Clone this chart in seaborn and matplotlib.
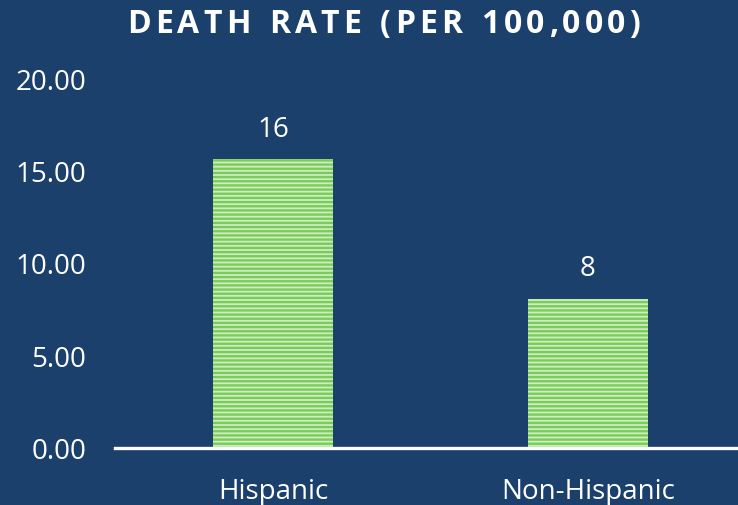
import matplotlib
matplotlib.use("Agg")
import matplotlib.pyplot as plt
import seaborn as sns
import pandas as pd

groups = ["Hispanic", "Non-Hispanic"]
death_rate = [15.6, 8.05]
bar_labels = ["16", "8"]
y_ticks = [0, 5, 10, 15, 20]
title = "DEATH RATE (PER 100,000)"

BG = "#1a406b"
LIGHT = "#cdefbd"
DARK = "#7acb5c"

sns.set_theme(style="white")
plt.rcParams["font.family"] = ["Open Sans", "DejaVu Sans"]
plt.rcParams["hatch.linewidth"] = 1.7
plt.rcParams["hatch.color"] = DARK

df = pd.DataFrame({"group": groups, "rate": death_rate})

fig = plt.figure(figsize=(7.38, 5.06), dpi=100, facecolor=BG)
ax = fig.add_axes([115.5 / 738, 57 / 506, 630 / 738, 370 / 506])
ax.set_facecolor(BG)

sns.barplot(data=df, x="group", y="rate", ax=ax, width=0.38,
            color=LIGHT, saturation=1, edgecolor="none")
for p in ax.patches:
    p.set_hatch("----")
    p.set_edgecolor(DARK)
    p.set_linewidth(0)

ax.bar_label(ax.containers[0], labels=bar_labels, padding=12,
             color="white", fontsize=20)

ax.set_xlim(-0.5, 1.5)
ax.set_ylim(0, 20)
ax.set_yticks(y_ticks)
ax.set_yticklabels([f"{v:.2f}" for v in y_ticks])
ax.set_xlabel("")
ax.set_ylabel("")
ax.tick_params(axis="both", length=0, colors="white", labelsize=20)
ax.tick_params(axis="x", pad=21)
ax.tick_params(axis="y", pad=21)
for side in ["top", "right", "left"]:
    ax.spines[side].set_visible(False)
ax.spines["bottom"].set_color("white")
ax.spines["bottom"].set_linewidth(2.4)

# spaced-out title, drawn letter by letter
renderer = fig.canvas.get_renderer()
x0, x1 = 127, 640
fs = 23
widths = []
for ch in title:
    t = fig.text(0, 0, ch if ch != " " else "n", fontsize=fs, fontweight="bold")
    w = t.get_window_extent(renderer).width
    t.remove()
    widths.append(w * 0.5 if ch == " " else w)
gap = (x1 - x0 - sum(widths)) / (len(title) - 1)
x = x0
for ch, w in zip(title, widths):
    if ch != " ":
        fig.text(x / 738, 1 - 33 / 506, ch, fontsize=fs, fontweight="bold",
                 color="white", ha="left", va="baseline")
    x += w + gap

fig.savefig("out.png", dpi=100, facecolor=BG)
